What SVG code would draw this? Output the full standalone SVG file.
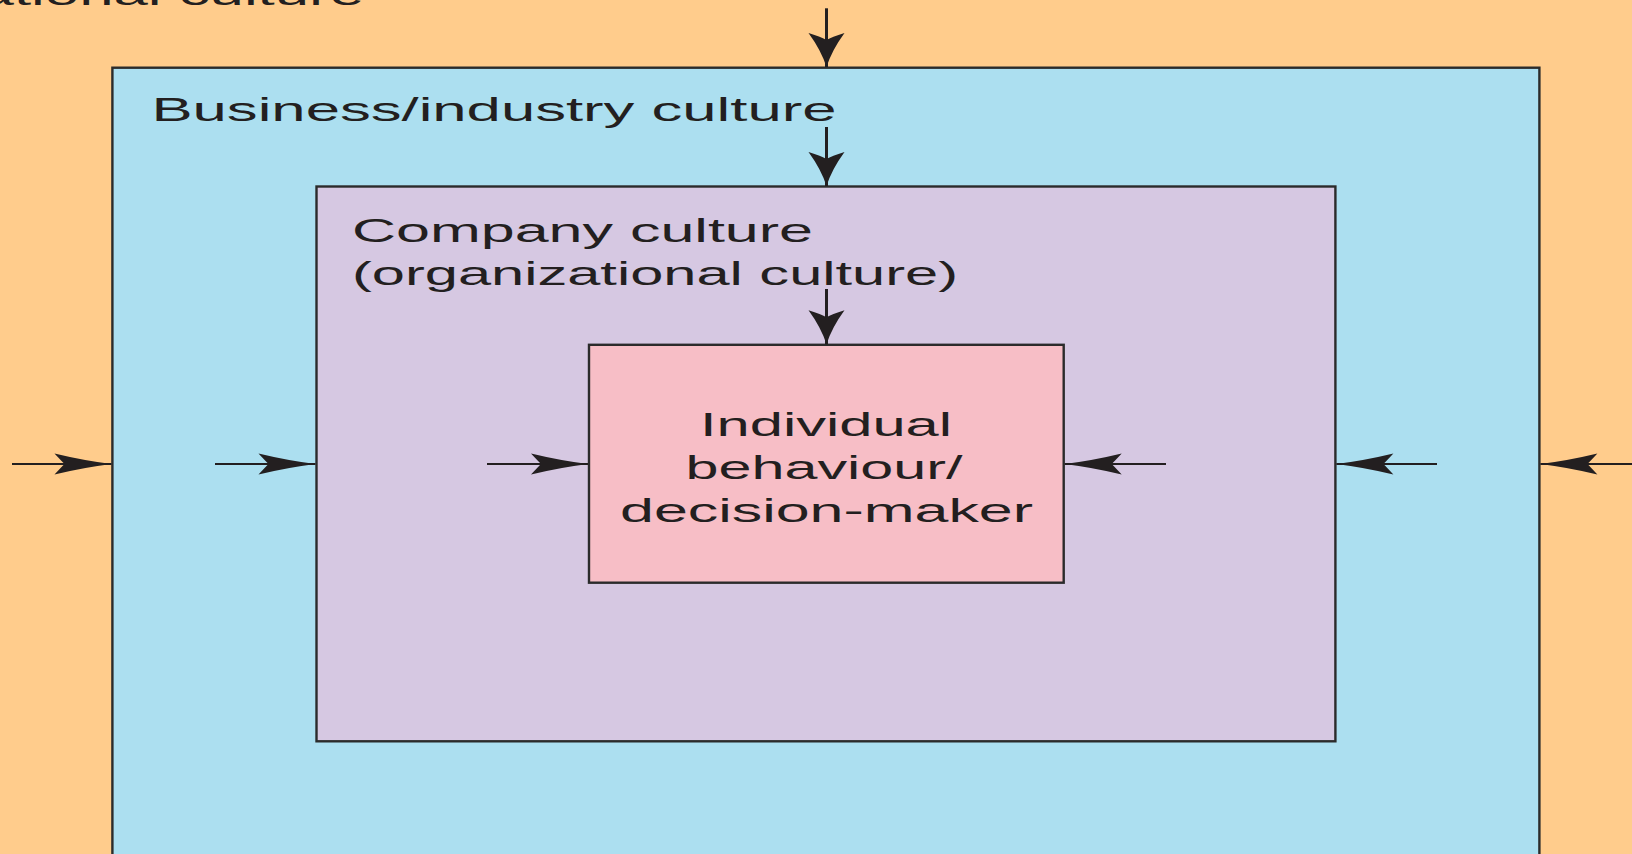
<svg xmlns="http://www.w3.org/2000/svg" width="1632" height="854" viewBox="0 0 1632 854">
  <style>
    .box { stroke: #2b2b2b; stroke-width: 2.4; }
    .lbl { font-family: "Liberation Sans", Arial, sans-serif; font-size: 34px; fill: #231f20; }
    .conn { stroke: #231f20; fill: none; }
    .h { stroke-width: 2; }
    .v { stroke-width: 3; }
  </style>
  <defs>
    <marker id="ah" markerUnits="userSpaceOnUse" orient="auto" overflow="visible" markerWidth="60" markerHeight="24" refX="0" refY="0">
      <path d="M0,0 Q-28,-3.5 -57,-10.5 Q-50,-3 -47,0 Q-50,3 -57,10.5 Q-28,3.5 0,0 Z" fill="#231f20"/>
    </marker>
    <marker id="av" markerUnits="userSpaceOnUse" orient="auto" overflow="visible" markerWidth="40" markerHeight="40" refX="0" refY="0">
      <path d="M0,0 Q-17,-5.5 -34,-18 Q-30,-5 -27,0 Q-30,5 -34,18 Q-17,5.5 0,0 Z" fill="#231f20"/>
    </marker>
  </defs>

  <rect x="0" y="0" width="1632" height="854" fill="#FFCC8C"/>

  <g id="national">
    <text class="lbl" x="-65" y="5" textLength="429" lengthAdjust="spacingAndGlyphs">National culture</text>
  </g>

  <g id="business">
    <rect class="box" x="112.4" y="67.7" width="1427" height="800" fill="#ACDFF0"/>
    <text class="lbl" x="151.5" y="121" textLength="685" lengthAdjust="spacingAndGlyphs">Business/industry culture</text>
  </g>

  <g id="company">
    <rect class="box" x="316.5" y="186.5" width="1018.9" height="554.8" fill="#D6C8E2"/>
    <text class="lbl" x="352" y="241.5" textLength="461" lengthAdjust="spacingAndGlyphs">Company culture</text>
    <text class="lbl" x="352" y="285" textLength="606" lengthAdjust="spacingAndGlyphs">(organizational culture)</text>
  </g>

  <g id="individual">
    <rect class="box" x="589" y="344.8" width="474.7" height="237.9" fill="#F7BEC6"/>
    <text class="lbl" x="700" y="435.5" textLength="252" lengthAdjust="spacingAndGlyphs">Individual</text>
    <text class="lbl" x="685.5" y="478.5" textLength="277" lengthAdjust="spacingAndGlyphs">behaviour/</text>
    <text class="lbl" x="620" y="522" textLength="413" lengthAdjust="spacingAndGlyphs">decision-maker</text>
  </g>

  <g id="connectors">
    <line class="conn v" x1="826.5" y1="8.3" x2="826.5" y2="67" marker-end="url(#av)"/>
    <line class="conn v" x1="826.5" y1="127" x2="826.5" y2="186" marker-end="url(#av)"/>
    <line class="conn v" x1="826.5" y1="289" x2="826.5" y2="344.3" marker-end="url(#av)"/>
    <line class="conn h" x1="12" y1="464" x2="111.5" y2="464" marker-end="url(#ah)"/>
    <line class="conn h" x1="215" y1="464" x2="315.5" y2="464" marker-end="url(#ah)"/>
    <line class="conn h" x1="487" y1="464" x2="588" y2="464" marker-end="url(#ah)"/>
    <line class="conn h" x1="1166" y1="464" x2="1064.7" y2="464" marker-end="url(#ah)"/>
    <line class="conn h" x1="1437" y1="464" x2="1336.4" y2="464" marker-end="url(#ah)"/>
    <line class="conn h" x1="1632" y1="464" x2="1540.4" y2="464" marker-end="url(#ah)"/>
  </g>
</svg>
